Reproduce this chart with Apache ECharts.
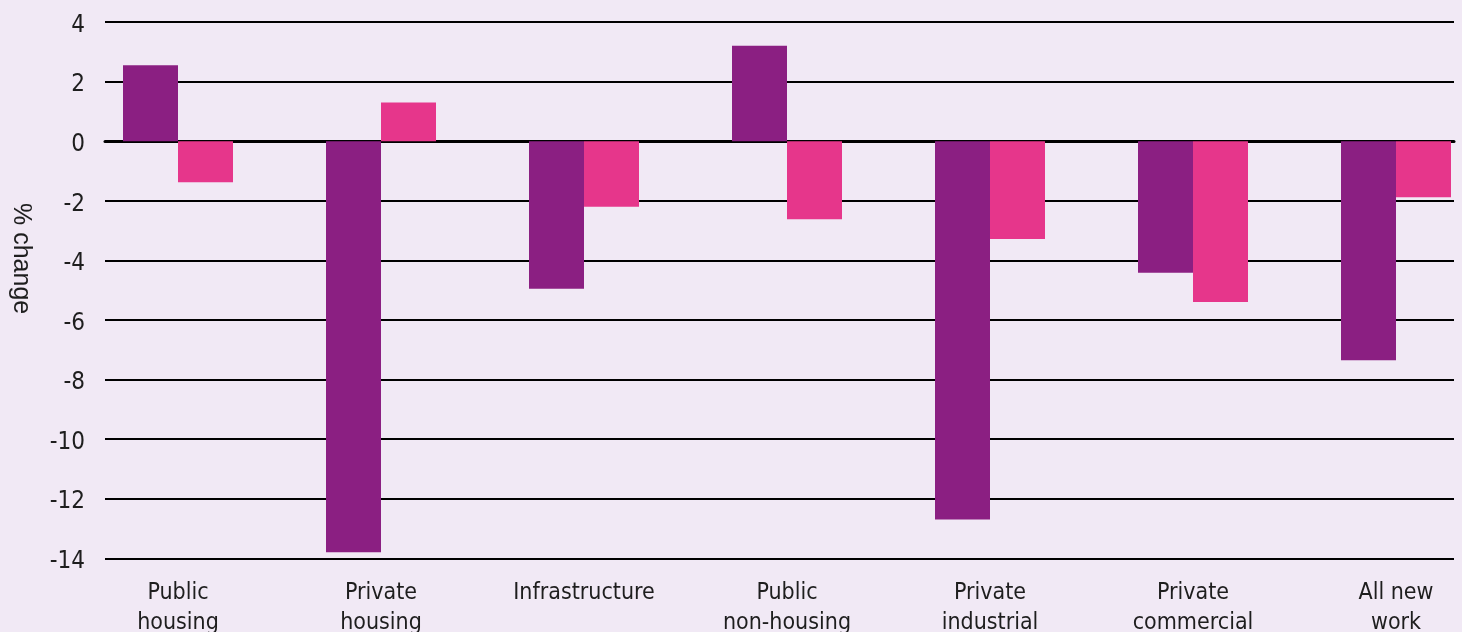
<!DOCTYPE html>
<html>
<head>
<meta charset="utf-8">
<script src="https://cdn.jsdelivr.net/npm/echarts@6/dist/echarts.min.js"></script>
<style>
html,body{margin:0;padding:0;background:#f1e9f5;}
#chart{width:1462px;height:632px;}
</style>
</head>
<body>
<div id="chart"></div>
<script>
const categories = ['Public\nhousing', 'Private\nhousing', 'Infrastructure', 'Public\nnon-housing', 'Private\nindustrial', 'Private\ncommercial', 'All new\nwork'];
const seriesA = [2.55, -13.8, -4.95, 3.2, -12.7, -4.42, -7.35];
const seriesB = [-1.38, 1.3, -2.2, -2.62, -3.28, -5.4, -1.88];
const yTicks = { min: -14, max: 4, interval: 2 };
const yName = '% change';

const FONT = "'Liberation Sans Narrow', 'Arial Narrow', 'DejaVu Sans Condensed', sans-serif";
const chart = echarts.init(document.getElementById('chart'));
chart.setOption({
  backgroundColor: '#f1e9f5',
  animation: false,
  textStyle: { fontFamily: FONT },
  grid: [
    { left: 76.5, width: 1421, top: 22, height: 536.3, containLabel: false, outerBoundsMode: 'none' },
    { left: 105, width: 1349, top: 22, height: 536.3, containLabel: false, outerBoundsMode: 'none' }
  ],
  xAxis: [
    {
      type: 'category', gridIndex: 0, data: categories,
      axisLine: { show: false }, axisTick: { show: false },
      axisLabel: { color: '#1e1e1e', fontSize: 23, lineHeight: 30, margin: 20, fontFamily: FONT, interval: 0, hideOverlap: false }
    },
    {
      type: 'value', gridIndex: 1, min: 0, max: 1,
      axisLine: { show: true, onZero: true, lineStyle: { color: '#000', width: 3 } },
      axisTick: { show: false }, axisLabel: { show: false }, splitLine: { show: false }
    }
  ],
  yAxis: [
    {
      type: 'value', gridIndex: 0, min: yTicks.min, max: yTicks.max, interval: yTicks.interval,
      show: false, splitLine: { show: false }
    },
    {
      type: 'value', gridIndex: 1, min: yTicks.min, max: yTicks.max, interval: yTicks.interval,
      axisLine: { show: false }, axisTick: { show: false },
      axisLabel: {
        margin: 20,
        formatter: v => '{t|' + v + '}',
        rich: { t: { color: '#1e1e1e', fontSize: 24, fontFamily: FONT, padding: [7, 0, 0, 0] } }
      },
      splitLine: { show: true, lineStyle: { color: '#000', width: 2 } }
    }
  ],
  graphic: [{
    type: 'text', left: 8, top: 203, rotation: -Math.PI / 2,
    style: { text: yName, fill: '#1e1e1e', font: "25px 'Liberation Sans', Arial, sans-serif" }
  }],
  series: [
    {
      type: 'bar', xAxisIndex: 0, yAxisIndex: 0, data: seriesA,
      barWidth: 55, barGap: '0%', itemStyle: { color: '#8b1f82' }, z: 3
    },
    {
      type: 'bar', xAxisIndex: 0, yAxisIndex: 0, data: seriesB,
      barWidth: 55, barGap: '0%', itemStyle: { color: '#e6368b' }, z: 3
    }
  ]
});
</script>
</body>
</html>
